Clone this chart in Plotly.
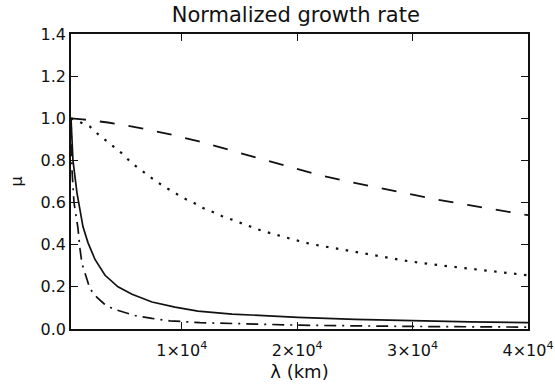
import plotly.graph_objects as go

# Wavelength samples (km) and normalized growth rate for each case
lam_solid = [400, 570, 920, 1180, 1440, 1870, 2480, 3350, 4470, 5690, 7420,
             9410, 11400, 14350, 17210, 20070, 25000, 30000, 35000, 40000]
mu_solid = [1.0, 0.80, 0.645, 0.565, 0.485, 0.41, 0.33, 0.255, 0.20, 0.165, 0.128,
            0.104, 0.085, 0.071, 0.062, 0.055, 0.046, 0.039, 0.034, 0.030]

lam_dashdot = [400, 490, 660, 1000, 1180, 1350, 1700, 2050, 2650, 3260, 4040,
               5250, 5950, 7420, 8980, 11580, 15900, 20200, 30000, 40000]
mu_dashdot = [1.0, 0.75, 0.6, 0.48, 0.38, 0.31, 0.25, 0.19, 0.15, 0.12, 0.095,
              0.076, 0.064, 0.05, 0.039, 0.03, 0.023, 0.018, 0.012, 0.009]

lam_dotted = [400, 2050, 2740, 3520, 4130, 4900, 5600, 6300, 7000, 7800, 8500,
              9300, 10200, 11000, 11800, 12700, 13500, 14300, 15200, 16000, 16900,
              17800, 18700, 19500, 21200, 24200, 27000, 29600, 32400, 35200, 37900, 40000]
mu_dotted = [1.0, 0.96, 0.925, 0.89, 0.86, 0.83, 0.79, 0.76, 0.73, 0.70, 0.675,
             0.65, 0.62, 0.60, 0.575, 0.555, 0.535, 0.52, 0.50, 0.485, 0.467,
             0.452, 0.44, 0.427, 0.403, 0.375, 0.347, 0.322, 0.302, 0.284, 0.267, 0.255]

lam_dashed = [400, 1400, 3600, 6300, 8900, 11500, 14100, 16700, 19200, 21800,
              24400, 27000, 29600, 32200, 34900, 37500, 40000]
mu_dashed = [1.0, 0.995, 0.98, 0.955, 0.925, 0.89, 0.85, 0.81, 0.77, 0.732,
             0.70, 0.67, 0.64, 0.613, 0.588, 0.563, 0.54]

x_ticks = [10000, 20000, 30000, 40000]
x_ticktext = ["1×10<sup>4</sup>", "2×10<sup>4</sup>", "3×10<sup>4</sup>", "4×10<sup>4</sup>"]
y_ticks = [0.0, 0.2, 0.4, 0.6, 0.8, 1.0, 1.2, 1.4]

FONT = "DejaVu Sans"
INK = "#111111"

fig = go.Figure()
fig.add_trace(go.Scatter(x=lam_solid, y=mu_solid, mode="lines",
                         line=dict(color=INK, width=1.7)))
fig.add_trace(go.Scatter(x=lam_dashdot, y=mu_dashdot, mode="lines",
                         line=dict(color=INK, width=1.7, dash="12px,6px,2px,6px")))
fig.add_trace(go.Scatter(x=lam_dotted, y=mu_dotted, mode="lines",
                         line=dict(color=INK, width=2.2, dash="2.5px,7.5px")))
fig.add_trace(go.Scatter(x=lam_dashed, y=mu_dashed, mode="lines",
                         line=dict(color=INK, width=1.8, dash="15px,14px")))

axis_common = dict(showgrid=False, zeroline=False, showline=True, linecolor=INK,
                   linewidth=1.5, mirror="ticks", ticks="inside", ticklen=7,
                   tickcolor=INK, tickwidth=1.2, automargin=False,
                   tickfont=dict(family=FONT, size=16, color=INK))

fig.update_layout(
    width=555, height=385,
    margin=dict(l=71, r=27, t=34, b=56),
    paper_bgcolor="white", plot_bgcolor="white",
    showlegend=False,
    title=dict(text="Normalized growth rate", x=0.533, xanchor="center",
               y=0.962, yanchor="middle",
               font=dict(family=FONT, size=21, color=INK)),
    xaxis=dict(range=[400, 40000], tickvals=x_ticks, ticktext=x_ticktext,
               ticklabelstandoff=6,
               title=dict(text="λ (km)", standoff=6,
                          font=dict(family=FONT, size=18, color=INK)),
               **axis_common),
    yaxis=dict(range=[0, 1.4], tickvals=y_ticks, tickformat=".1f",
               title=dict(text="μ", standoff=14,
                          font=dict(family=FONT, size=16, color=INK)),
               **axis_common),
)

fig.write_html("out.html")
